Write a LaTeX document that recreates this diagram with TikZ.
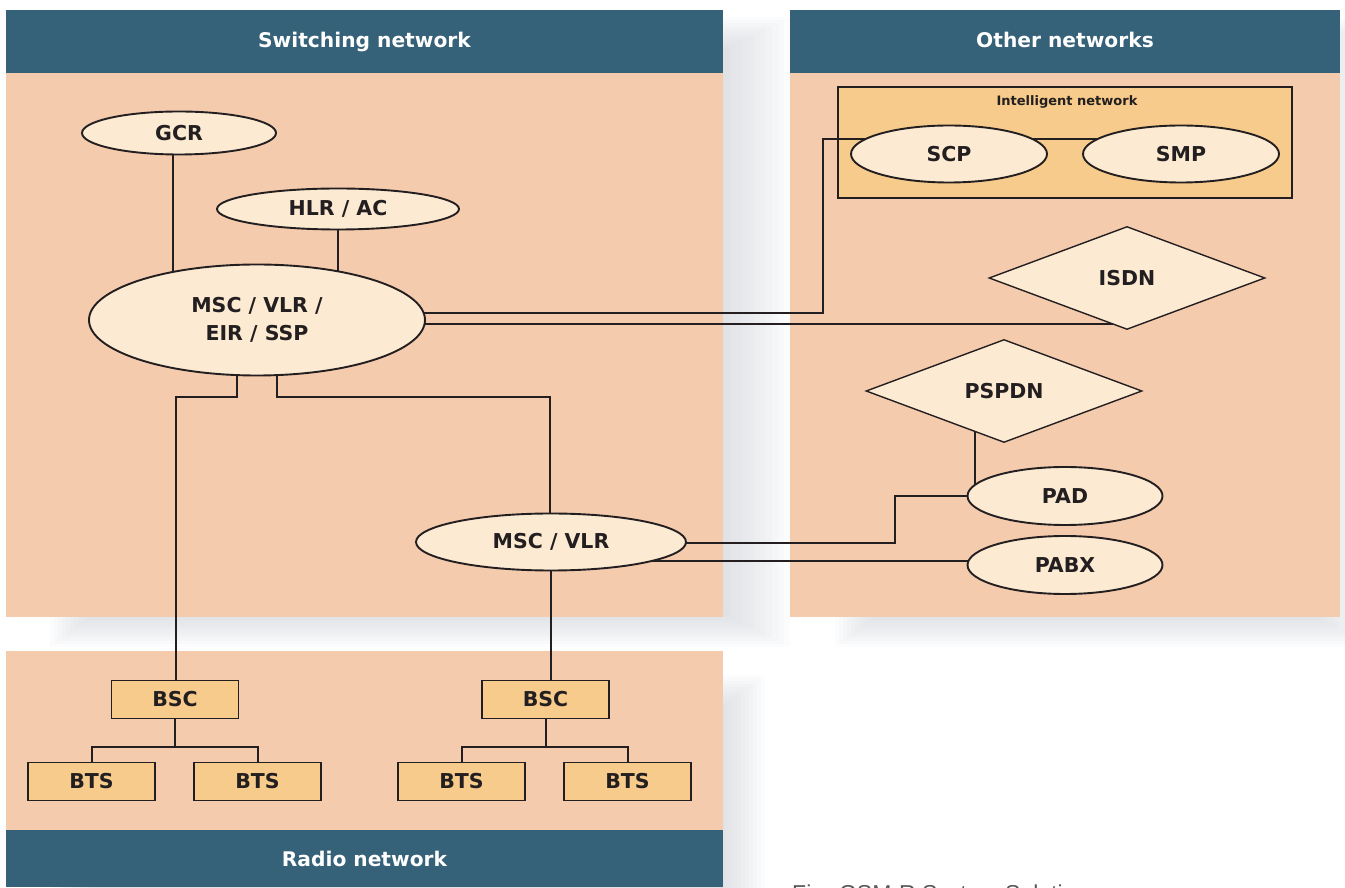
\documentclass[tikz,border=0pt]{standalone}
\usepackage{fontspec}
\setmainfont{DejaVu Sans}
\newfontfamily\capfont{Liberation Sans}
\usetikzlibrary{shapes.geometric}

\definecolor{headblue}{RGB}{53,97,121}
\definecolor{peach}{RGB}{245,203,174}
\definecolor{cream}{RGB}{252,234,210}
\definecolor{amber}{RGB}{247,203,139}
\definecolor{ink}{RGB}{35,31,32}
\definecolor{shadowtint}{RGB}{170,176,186}

\pgfdeclarelayer{base}
\pgfdeclarelayer{wires}
\pgfsetlayers{base,wires,main}

\newcommand\labelfont{\fontsize{20.5}{28}\selectfont\bfseries}

\tikzset{%
   % white titles on the blue bars
   bartitle/.style={
      text=white,
      font=\fontsize{20.2}{24}\selectfont\bfseries,
      inner sep=0pt,
      anchor=base
   },
   elli/.style={
      ellipse,
      draw=ink,
      fill=cream,
      line width=1.9pt,
      inner sep=0pt,
      text=ink,
      font=\labelfont,
      align=center
   },
   unitbox/.style={
      rectangle,
      draw=ink,
      fill=amber,
      line width=1.6pt,
      inner sep=0pt,
      minimum width=127pt,
      minimum height=38pt,
      text=ink,
      font=\labelfont
   },
   net/.style={
      diamond,
      draw=ink,
      fill=cream,
      line width=1.4pt,
      inner sep=0pt,
      minimum width=276pt,
      minimum height=103pt,
      text=ink,
      font=\labelfont
   },
   link/.style={draw=ink, line width=2pt},
   % one step of the soft drop shadow
   softshadow/.style={fill=shadowtint, opacity=.04},
}

\begin{document}
\begin{tikzpicture}[x=1pt, y=1pt]
   \useasboundingbox (0,0) rectangle (1345,887);

   \begin{pgfonlayer}{base}
      \foreach \k in {0,...,11} {
         \fill[softshadow] (50+4*\k,240+3*\k) rectangle (790-6*\k,870-3*\k);
         \fill[softshadow] (835+4*\k,240+3*\k) rectangle (1375-6*\k,870-3*\k);
         \fill[softshadow] (50+4*\k,-20) rectangle (765-4*\k,212-3*\k);
      }
      \fill[peach] (6,270) rectangle (723,814);
      \fill[headblue] (6,814) rectangle (723,877);
      \fill[peach] (790,270) rectangle (1340,814);
      \fill[headblue] (790,814) rectangle (1340,877);
      \fill[peach] (6,57) rectangle (723,236);
      \fill[headblue] (6,0) rectangle (723,57);
      \fill[amber, draw=ink, line width=1.4pt] (838,689) rectangle (1292,800);
   \end{pgfonlayer}

   \node[bartitle] (swTitle) at (364.5,839.5) {Switching network};
   \node[bartitle] (onTitle) at (1065,839.5) {Other networks};
   \node[bartitle] (rnTitle) at (364.5,20.3) {Radio network};
   \node[font=\fontsize{13}{15}\selectfont\bfseries, text=ink, anchor=base, inner sep=0pt]
      (inTitle) at (1067,781) {Intelligent network};

   % switching network
   \node[elli, minimum width=194pt, minimum height=43pt] (GCR) at (179,754) {GCR};
   \node[elli, minimum width=242pt, minimum height=41pt] (HLR) at (338,678) {HLR / AC};
   \node[elli, minimum width=336pt, minimum height=111pt] (MSC) at (257,567) {MSC / VLR /\\EIR / SSP};
   \node[elli, minimum width=270pt, minimum height=57pt] (VLR) at (551,345) {MSC / VLR};

   % other networks
   \node[elli, minimum width=196pt, minimum height=57pt] (SCP) at (949,733) {SCP};
   \node[elli, minimum width=196pt, minimum height=57pt] (SMP) at (1181,733) {SMP};
   \node[net] (ISDN) at (1127,609) {ISDN};
   \node[net] (PSPDN) at (1004,496) {PSPDN};
   \node[elli, minimum width=195pt, minimum height=58pt] (PAD) at (1065,391) {PAD};
   \node[elli, minimum width=195pt, minimum height=58pt] (PABX) at (1065,322) {PABX};

   % radio network
   \node[unitbox] (BSCa) at (175,187.5) {BSC};
   \node[unitbox] (BSCb) at (545.5,187.5) {BSC};
   \node[unitbox] (BTSa) at (91.5,105.5) {BTS};
   \node[unitbox] (BTSb) at (257.5,105.5) {BTS};
   \node[unitbox] (BTSc) at (461.5,105.5) {BTS};
   \node[unitbox] (BTSd) at (627.5,105.5) {BTS};

   \node[anchor=base west, inner sep=0pt, text=black!65, font=\capfont\fontsize{23}{26}\selectfont]
      (caption) at (792,-14.5) {Fig. GSM-R System Solution};

   \begin{pgfonlayer}{wires}
      \draw[link] (GCR.center -| 173,0) -- (MSC.center -| 173,0);
      \draw[link] (HLR) -- (HLR |- MSC);
      \coordinate (inBend) at (823,574);
      \draw[link] (MSC.center |- inBend) -- (inBend) |- ([yshift=15pt]SCP.center);
      \draw[link] ([yshift=15pt]SCP.center) -- ([yshift=15pt]SMP.center);
      \draw[link] (MSC.center |- 0,563) -- (ISDN.center |- 0,563);
      % down to the radio network
      \coordinate (lBend) at (176,490);
      \coordinate (rBend) at (550,490);
      \draw[link] ([xshift=-20pt]MSC.center) |- (lBend) -- (lBend |- BSCa);
      \draw[link] ([xshift=20pt]MSC.center) |- (rBend) -- (rBend |- VLR);
      \draw[link] (VLR) -- (VLR |- BSCb);
      \draw[link] (BSCa) -- (BSCa |- 0,140);
      \draw[link] (BTSa) -- (BTSa |- 0,140) -| (BTSb);
      \draw[link] (BSCb) -- (BSCb |- 0,140);
      \draw[link] (BTSc) -- (BTSc |- 0,140) -| (BTSd);
      % packet side
      \draw[link] (PSPDN.center -| 975,0) -- (PAD.center -| 975,0);
      \coordinate (padBend) at (895,344);
      \draw[link] (PAD) -| (padBend) -- (VLR |- padBend);
      \draw[link] (VLR.center |- 0,326) -- (PABX.center |- 0,326);
   \end{pgfonlayer}
\end{tikzpicture}
\end{document}
